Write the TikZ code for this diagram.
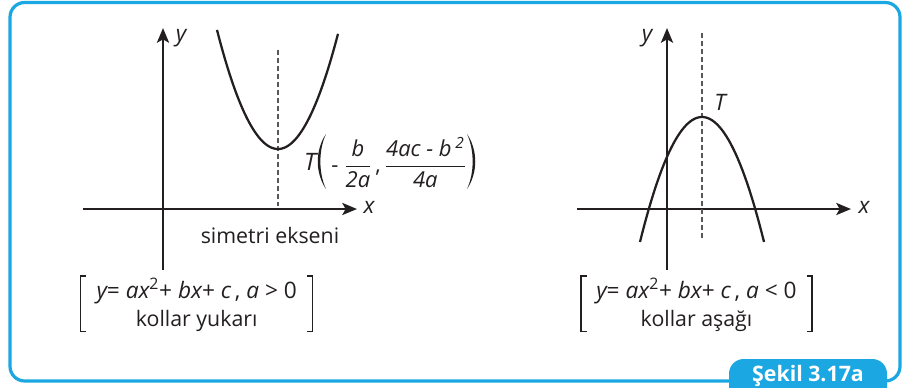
\documentclass[tikz,border=0pt]{standalone}
\usepackage{fontspec}
\setmainfont{Open Sans}
\usetikzlibrary{arrows.meta}
\definecolor{frameblue}{RGB}{27,167,225}
\definecolor{ink}{RGB}{35,31,32}
\begin{document}
\begin{tikzpicture}[x=0.75pt,y=-0.75pt,
  axis/.style={ink,line width=2pt,-{Stealth[length=11pt,width=9pt,inset=2.5pt]}},
  curve/.style={ink,line width=1.7pt},
  sym/.style={line width=1pt,dash pattern=on 3.5pt off 2.5pt,ink!75},
  lbl/.style={ink,font=\fontsize{17}{20}\selectfont\itshape,inner sep=0pt},
  txt/.style={ink,font=\fontsize{16}{19}\selectfont,inner sep=0pt},
  brk/.style={ink,line width=0.9pt},
  paren/.style={fill=ink}]
\useasboundingbox (0,0) rectangle (903,387);
% frame
\draw[frameblue,line width=2.4pt,rounded corners=11pt] (10,2.5) rectangle (900,381);
\fill[frameblue,rounded corners=11pt] (729,359) rectangle (887,420);
\node[font=\fontsize{16}{19}\selectfont\bfseries,text=white,anchor=base,inner sep=0pt] (fig) at (808,381.5) {Şekil 3.17a};
% ---------- left graph ----------
\coordinate (xa) at (83,209);
\coordinate (xb) at (357,209);
\coordinate (ya) at (163,270);
\coordinate (yb) at (163,28);
\draw[axis] (xa) -- (xb);
\draw[axis] (ya) -- (yb);
\node[lbl] (ylab) at (181,38) {y};
\node[lbl] (xlab) at (369,207) {x};
\coordinate (va) at (278,50);
\coordinate (vb) at (278,206);
\draw[sym] (va) -- (vb);
\draw[curve,domain=-61:60,samples=80,smooth] plot ({278+\x},{149-0.032*\x*\x});
\node[txt,anchor=base] (sym) at (270,243) {simetri ekseni};
% vertex label T(-b/2a, (4ac-b^2)/4a)
\node[lbl,font=\fontsize{18}{20}\selectfont\itshape] (T1) at (310,162) {T};
\node[ink,anchor=west,inner sep=0pt,font=\fontsize{16.5}{20}\selectfont] (frac) at (331,162.5)
  {$\displaystyle\mbox{- }\frac{\mbox{\itshape b}}{\mbox{\itshape 2a}}\mbox{\,,\,}\frac{\mbox{\itshape 4ac - b\,\textsuperscript{2}}}{\mbox{\itshape 4a}}$};
\fill[paren] (326,134) .. controls (315,150) and (315,173) .. (326,189)
             .. controls (318.5,173) and (318.5,150) .. cycle;
\fill[paren] (467,134) .. controls (478,150) and (478,173) .. (467,189)
             .. controls (474.5,173) and (474.5,150) .. cycle;
% bracket left
\draw[brk] (86,276) -- (80.7,276) -- (80.7,331.5) -- (86,331.5);
\draw[brk] (307,276) -- (312.7,276) -- (312.7,331.5) -- (307,331.5);
\node[txt,anchor=base,font=\fontsize{17}{20}\selectfont] (eq1) at (196.7,298) {{\itshape y}= {\itshape ax}\textsuperscript{2}+ {\itshape bx}+ {\itshape c}\,, {\itshape a} > 0};
\node[txt,anchor=base] (k1) at (196.7,326) {kollar yukarı};
% ---------- right graph ----------
\coordinate (xc) at (577,209);
\coordinate (xd) at (851,209);
\coordinate (yc) at (667,270);
\coordinate (yd) at (667,28);
\draw[axis] (xc) -- (xd);
\draw[axis] (yc) -- (yd);
\node[lbl] (ylab2) at (647,38) {y};
\node[lbl] (xlab2) at (864,207) {x};
\coordinate (vc) at (702,33);
\coordinate (vd) at (702,240);
\draw[sym] (vc) -- (vd);
\draw[curve,domain=-62:62,samples=80,smooth] plot ({702+\x},{117+0.0325*\x*\x});
\node[lbl] (T2) at (720,102) {T};
\draw[brk] (586.5,276) -- (581,276) -- (581,331.5) -- (586.5,331.5);
\draw[brk] (806.5,276) -- (812,276) -- (812,331.5) -- (806.5,331.5);
\node[txt,anchor=base,font=\fontsize{17}{20}\selectfont] (eq2) at (696.5,298) {{\itshape y}= {\itshape ax}\textsuperscript{2}+ {\itshape bx}+ {\itshape c}\,, {\itshape a} < 0};
\node[txt,anchor=base] (k2) at (696.5,326) {kollar aşağı};
\end{tikzpicture}
\end{document}
